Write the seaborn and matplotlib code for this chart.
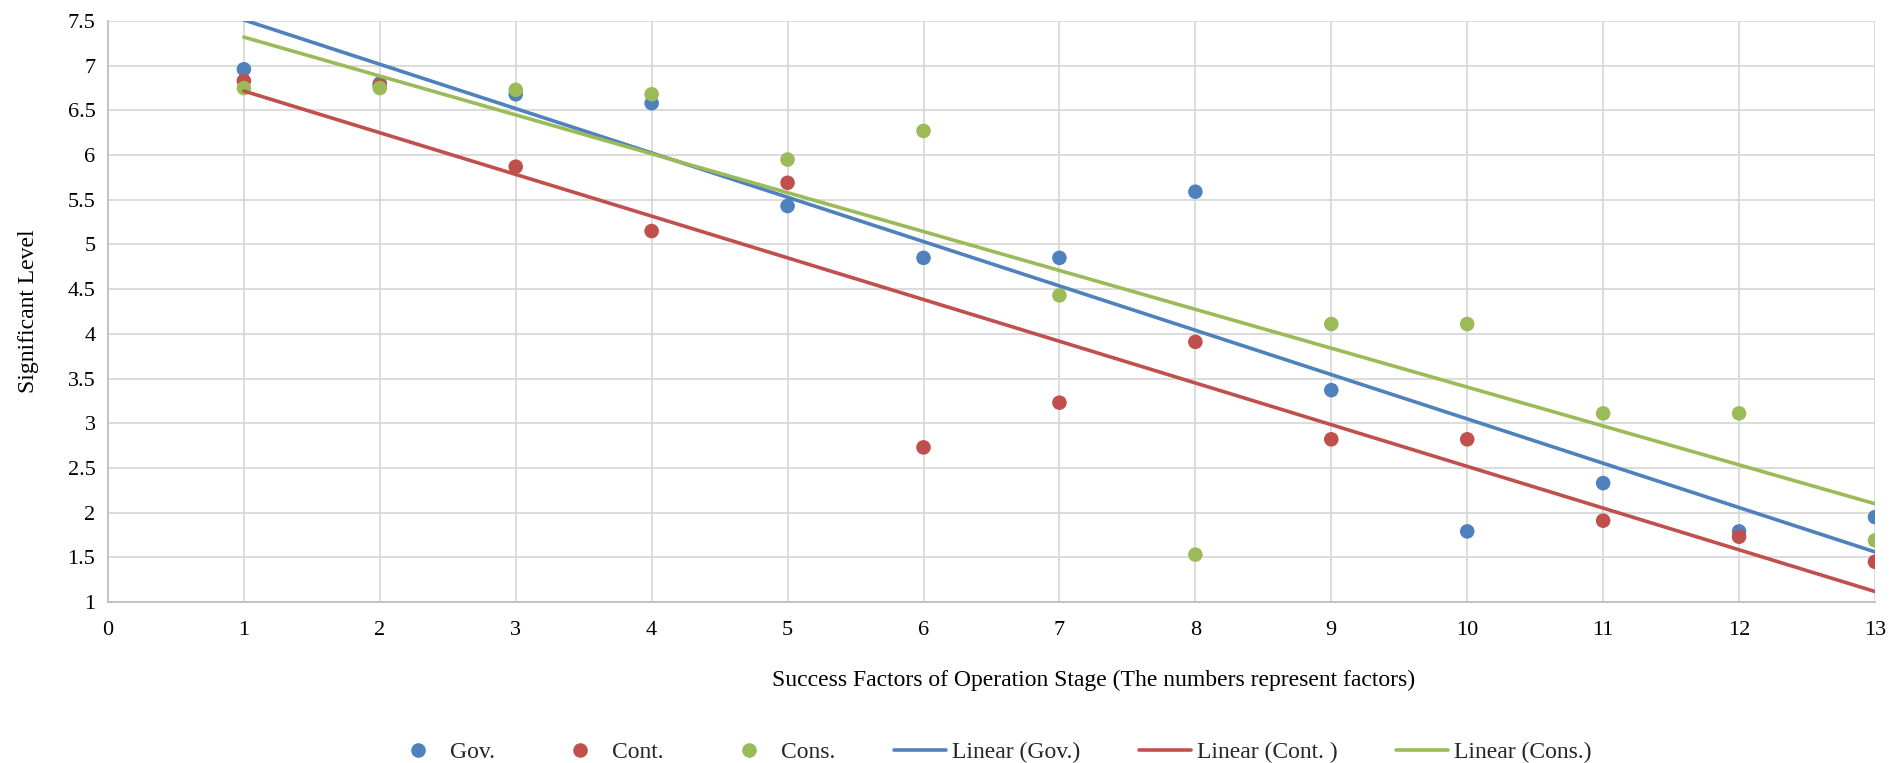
import numpy as np
import pandas as pd
import seaborn as sns
import matplotlib.pyplot as plt
from matplotlib.lines import Line2D
from matplotlib.ticker import MultipleLocator, FuncFormatter

# Success factors of the operation stage (1-13) and mean significance per group
factors = list(range(1, 14))
gov = [6.96, 6.80, 6.68, 6.58, 5.43, 4.85, 4.85, 5.59, 3.37, 1.79, 2.33, 1.79, 1.95]
cont = [6.83, 6.78, 5.87, 5.15, 5.69, 2.73, 3.23, 3.91, 2.82, 2.82, 1.91, 1.73, 1.45]
cons = [6.75, 6.75, 6.73, 6.68, 5.95, 6.27, 4.43, 1.53, 4.11, 4.11, 3.11, 3.11, 1.69]

groups = ["Gov.", "Cont.", "Cons."]
trend_labels = ["Linear (Gov.)", "Linear (Cont. )", "Linear (Cons.)"]
colors = ["#4F81BD", "#C0504D", "#9BBB59"]

df = pd.DataFrame({
    "factor": factors * 3,
    "level": gov + cont + cons,
    "group": [g for g in groups for _ in factors],
})

sns.set_theme(style="white")
plt.rcParams["font.family"] = ["Liberation Serif", "DejaVu Serif"]

fig = plt.figure(figsize=(18.97, 7.63), dpi=100)
ax = fig.add_axes([0.0569, 0.211, 0.9315, 0.7615])

sns.scatterplot(data=df, x="factor", y="level", hue="group", hue_order=groups,
                palette=colors, s=110, linewidth=0, legend=False, ax=ax, zorder=3)

# least-squares trend line for each group
for g, c in zip(groups, colors):
    sub = df[df["group"] == g]
    sns.regplot(data=sub, x="factor", y="level", scatter=False, ci=None,
                color=c, line_kws={"linewidth": 2.6, "zorder": 4}, ax=ax)

ax.set_xlim(0, 13)
ax.set_ylim(1, 7.5)
ax.xaxis.set_major_locator(MultipleLocator(1))
ax.yaxis.set_major_locator(MultipleLocator(0.5))
ax.yaxis.set_major_formatter(FuncFormatter(lambda v, p: f"{v:g}"))
ax.grid(True, color="#D9D9D9", linewidth=1.3)
ax.set_axisbelow(True)
for side in ["top", "right"]:
    ax.spines[side].set_visible(False)
for side in ["left", "bottom"]:
    ax.spines[side].set_color("#BFBFBF")
    ax.spines[side].set_linewidth(1.3)
ax.tick_params(axis="both", length=0, labelsize=16, colors="black")
ax.tick_params(axis="y", pad=9)
ax.tick_params(axis="x", pad=14)

ax.set_xlabel("Success Factors of Operation Stage (The numbers represent factors)",
              fontsize=17, color="black")
ax.set_ylabel("Significant Level", fontsize=17, color="black")
ax.xaxis.set_label_coords(0.558, -0.117)
ax.yaxis.set_label_coords(-0.039, 0.5)

handles = [Line2D([], [], linestyle="none", marker="o", markersize=10.5,
                  markerfacecolor=c, markeredgewidth=0) for c in colors]
handles += [Line2D([], [], color=c, linewidth=2.6) for c in colors]
labels = groups + trend_labels
fig.legend(handles, labels, loc="center", bbox_to_anchor=(0.523, 0.014), ncol=6,
           frameon=False, fontsize=17, columnspacing=2.5, handlelength=2.2,
           handletextpad=0.25)

fig.savefig("out.png", dpi=100, facecolor="white")
